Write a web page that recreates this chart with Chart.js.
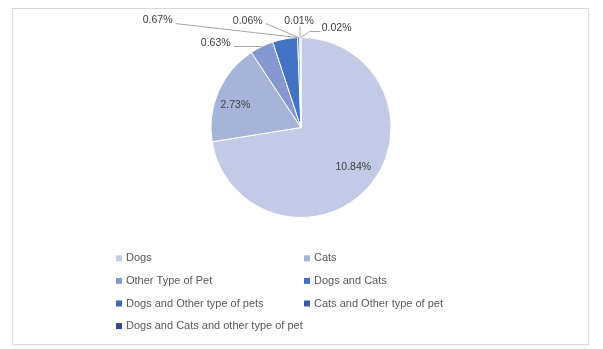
<!DOCTYPE html>
<html>
<head>
<meta charset="utf-8">
<script src="https://cdn.jsdelivr.net/npm/chart.js@4.4.0/dist/chart.umd.min.js"></script>
<style>
html,body{margin:0;padding:0;background:#fff;}
#wrap{position:relative;width:603px;height:349px;}
</style>
</head>
<body>
<div id="wrap"><canvas id="c" width="603" height="349"></canvas></div>
<script>
const categories = ['Dogs', 'Cats', 'Other Type of Pet', 'Dogs and Cats', 'Dogs and Other type of pets', 'Cats and Other type of pet', 'Dogs and Cats and other type of pet'];
const values = [10.84, 2.73, 0.63, 0.67, 0.06, 0.01, 0.02];
const valueLabels = ['10.84%', '2.73%', '0.63%', '0.67%', '0.06%', '0.01%', '0.02%'];
const colors = ['#c2cbe5', '#a7b4da', '#8598d1', '#4472c4', '#3f65b6', '#395ca4', '#2f4d8a'];

// label placement styles (offsets in px relative to arc anchor)
const labelStyle = [
  {inside: true, frac: 0.72, off: [3, -2]},
  {inside: true, frac: 0.76, off: [-3, 5]},
  {anchor: 'mid', text: [-46, -3], line: [[-28, 0], [0, 0]]},
  {anchor: 'end', text: [-140, -17], line: [[-122, -14], [0, 0]]},
  {anchor: 'mid', text: [-51, -16], line: [[-33, -14], [0, 0]]},
  {anchor: 'mid', text: [-1, -16], line: [[0, -11], [0, 0]]},
  {anchor: 'mid', text: [36, -9], line: [[20, -6], [9, -6], [0, 0]]}
];

const FONT = "'Liberation Sans', Arial, sans-serif";

const decor = {
  id: 'decor',
  beforeDraw(chart) {
    const ctx = chart.ctx;
    ctx.save();
    ctx.strokeStyle = '#d9d9d9';
    ctx.lineWidth = 1;
    ctx.strokeRect(12.5, 8.5, 576, 336);
    ctx.restore();
  },
  afterDatasetsDraw(chart) {
    const ctx = chart.ctx;
    const meta = chart.getDatasetMeta(0);
    ctx.save();
    ctx.font = '10.5px ' + FONT;
    ctx.fillStyle = '#404040';
    ctx.textAlign = 'center';
    ctx.textBaseline = 'middle';
    meta.data.forEach((arc, i) => {
      const p = arc.getProps(['x', 'y', 'startAngle', 'endAngle', 'outerRadius'], true);
      const st = labelStyle[i];
      if (st.inside) {
        const a = (p.startAngle + p.endAngle) / 2;
        const r = p.outerRadius * st.frac;
        ctx.fillText(valueLabels[i], p.x + Math.cos(a) * r + st.off[0], p.y + Math.sin(a) * r + st.off[1]);
      } else {
        const a = st.anchor === 'end' ? p.endAngle : (p.startAngle + p.endAngle) / 2;
        const ax = p.x + Math.cos(a) * p.outerRadius;
        const ay = p.y + Math.sin(a) * p.outerRadius;
        ctx.strokeStyle = '#a6a6a6';
        ctx.lineWidth = 1;
        ctx.beginPath();
        st.line.forEach((pt, k) => {
          const lx = ax + pt[0], ly = ay + pt[1];
          if (k === 0) ctx.moveTo(lx, ly); else ctx.lineTo(lx, ly);
        });
        ctx.stroke();
        ctx.fillText(valueLabels[i], ax + st.text[0], ay + st.text[1]);
      }
    });
    ctx.restore();

    // legend, two columns
    ctx.save();
    ctx.font = '11px ' + FONT;
    ctx.textAlign = 'left';
    ctx.textBaseline = 'middle';
    const colX = [116, 304];
    categories.forEach((name, i) => {
      const col = i % 2, row = Math.floor(i / 2);
      const x = colX[col];
      const y = 258.3 + row * 22.6;
      ctx.fillStyle = colors[i];
      ctx.fillRect(x, y - 3, 6, 6);
      ctx.fillStyle = '#595959';
      ctx.fillText(name, x + 10, y);
    });
    ctx.restore();
  }
};

new Chart(document.getElementById('c'), {
  type: 'pie',
  data: {
    labels: categories,
    datasets: [{
      data: values,
      backgroundColor: colors,
      borderColor: '#ffffff',
      borderWidth: 1
    }]
  },
  options: {
    responsive: false,
    animation: false,
    layout: {padding: {left: 0, right: 1, top: 37, bottom: 131}},
    plugins: {
      legend: {display: false},
      tooltip: {enabled: false}
    }
  },
  plugins: [decor]
});
</script>
</body>
</html>
